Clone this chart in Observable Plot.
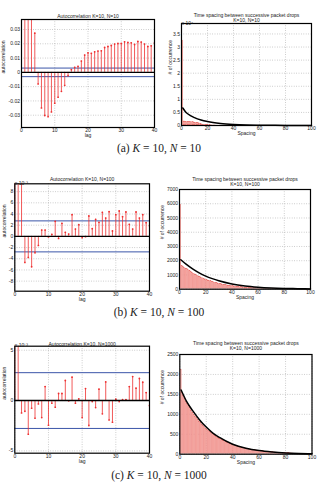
<!DOCTYPE html>
<html>
<head>
<meta charset="utf-8">
<script src="https://cdn.jsdelivr.net/npm/d3@7"></script>
<script src="https://cdn.jsdelivr.net/npm/@observablehq/plot@0.6"></script>
<style>
  body { margin: 0; background: #fff; }
  #fig { position: relative; width: 318px; height: 484px; overflow: hidden; background: #fff; }
  .panel { position: absolute; }
  .cap {
    position: absolute; left: 0; width: 318px; text-align: center;
    font-family: "Liberation Serif", "DejaVu Serif", serif; font-size: 11.5px;
    line-height: 14px; color: #222; white-space: pre;
  }
  .cap i { font-style: italic; }
</style>
</head>
<body>
<div id="fig"></div>
<script>
// Sample autocorrelation of the packet-drop sequence, lags 0..40
const acfN10 = [1, 0.06, 0.05, 0.045, 0.0274, -0.0081, -0.0249, -0.0302, -0.031, -0.0277,
  -0.0216, -0.0174, -0.0133, -0.0091, -0.0023, 0.0019, 0.0035, 0.0042, 0.0079, 0.0121,
  0.0137, 0.0133, 0.0144, 0.0149, 0.0151, 0.0174, 0.0181, 0.0188, 0.0198, 0.0202,
  0.0202, 0.0214, 0.0209, 0.0207, 0.0195, 0.0216, 0.0212, 0.0198, 0.0181, 0.0186, 0.0205];
const acfN100 = [1, 0.012, 0.011, -0.00466, -0.00376, -0.00543, -0.00293, -0.00161, 0.00113, 0.00113,
  -0.0001, 0.00036, 0.00269, -0.00036, 0.00233, 0.00072, 0.00042, 0.00388, 0.00131, 0.00209,
  -0.00024, -0.00006, 0.00364, 0.00137, 0.00304, 0.00251, 0.0043, 0.00328, 0.00442, 0.00096,
  0.00388, 0.00454, 0.00352, 0.00436, 0.00215, 0.00131, 0.00436, 0.00328, 0.00388, 0.00245, 0.00191];
const acfN1000 = [1, 0.008, -0.00123, -0.00106, -0.00334, -0.00076, -0.00175, -0.00033, -0.00169, 0.00139,
  -0.00245, -0.00026, -0.00066, 0.0007, 0.0007, 0.00199, -0.00003, 0.00232, -0.00026, 0.00017,
  -0.00169, 0.00119, -0.00248, -0.0001, -0.0007, 0.00113, -0.00132, 0.00185, -0.00192, -0.00215,
  0.00013, -0.0001, 0.0001, 0.0001, 0.00139, 0.00238, 0.00123, 0.00219, 0.00182, 0.00079, -0.0005];
// 95% confidence bounds
const confN10 = 0.003;
const confN100 = 0.00277;
const confN1000 = 0.00277;

// Histogram of spacing between successive drops (spacing 1, 2, 3, ...)
const histN10 = [32500, 1550, 1500, 1450, 1400, 1350, 1300, 1250, 1200, 1150, 1100, 1000, 900,
  800, 600, 400, 300, 220, 160, 120, 90, 60, 40, 30, 20, 10];
const histN100 = [5950, 1650, 1580, 1500, 1450, 1400, 1330, 1280, 1200, 1150, 1090, 1040, 990,
  940, 890, 840, 800, 760, 720, 680, 640, 610, 580, 550, 520, 490, 460, 440, 410, 390, 370, 350,
  330, 310, 290, 280, 260, 250, 235, 220, 205, 195, 185, 170, 160, 150, 140, 135, 125, 120, 110,
  105, 100, 90, 85, 80, 75, 70, 65, 60, 56, 52, 48, 45, 42, 39, 36, 33, 31, 29, 27, 25, 23, 21,
  20, 18, 17, 16, 15, 14];
const histN1000 = [2115, 1530, 1450, 1390, 1320, 1260, 1200, 1150, 1090, 1040, 990, 945, 900, 860,
  820, 780, 745, 710, 675, 645, 610, 585, 555, 530, 505, 480, 455, 435, 415, 395, 375, 355, 340,
  325, 310, 295, 280, 265, 250, 240, 228, 216, 205, 195, 185, 176, 167, 158, 150, 143, 136, 129,
  122, 116, 110, 104, 99, 94, 89, 84, 80, 76, 72, 68, 64, 61, 58, 55, 52, 49, 46, 44, 42, 40, 38,
  36, 34, 32, 30, 28, 26, 24, 22, 20, 18, 16, 14, 12, 10];

// Fitted geometric decay drawn over each histogram
const fitN10 = { s: [1, 3, 5, 10, 15, 20, 30, 40, 50, 60, 80, 100],
  n: [6700, 5300, 4400, 3000, 2100, 1500, 780, 400, 200, 110, 30, 8] };
const fitN100 = { s: [1, 5, 10, 15, 20, 25, 30, 40, 50, 60, 70, 80, 90, 100],
  n: [2070, 1760, 1430, 1150, 920, 740, 590, 370, 230, 145, 90, 55, 35, 22] };
const fitN1000 = { s: [1, 5, 10, 15, 20, 25, 30, 40, 50, 60, 70, 80, 90, 100],
  n: [1610, 1330, 1080, 860, 680, 530, 420, 250, 150, 90, 55, 32, 18, 10] };

// Tick values
const lagTicks = [0, 10, 20, 30, 40];
const spacingTicks = [0, 20, 40, 60, 80, 100];
const acfTicksN10 = [-0.03, -0.02, -0.01, 0, 0.01, 0.02, 0.03];
const acfTicksN100 = [-0.008, -0.006, -0.004, -0.002, 0, 0.002, 0.004, 0.006, 0.008];
const acfTicksN1000 = [-0.005, 0, 0.005];
const histTicksN10 = [0, 5000, 10000, 15000, 20000, 25000, 30000, 35000];
const histTicksN100 = [0, 1000, 2000, 3000, 4000, 5000, 6000, 7000];
const histTicksN1000 = [0, 500, 1000, 1500, 2000, 2500];

const captions = [
  "(a) <i>K</i> = 10, <i>N</i> = 10",
  "(b) <i>K</i> = 10, <i>N</i> = 100",
  "(c) <i>K</i> = 10, <i>N</i> = 1000"
];

const fig = document.getElementById("fig");
const FONT = "'Liberation Sans', Arial, sans-serif";
const RED = "#ee3030";
const gridStyle = { stroke: "#777", strokeOpacity: 0.9, strokeWidth: 0.5, strokeDasharray: "0.8,1.6" };

function place(svg, left, top) {
  const wrap = document.createElement("div");
  wrap.className = "panel";
  wrap.style.left = left + "px";
  wrap.style.top = top + "px";
  wrap.appendChild(svg);
  fig.appendChild(wrap);
}

const minusFmt = (s) => s.replace("\u2212", "-");

function acfPanel(o) {
  const data = o.values.map((r, lag) => ({ lag, r }));
  const marks = [
    Plot.gridX({ ticks: lagTicks, ...gridStyle }),
    Plot.gridY({ ticks: o.yticks, ...gridStyle }),
    Plot.ruleY([o.conf, -o.conf], { stroke: "#3b55a8", strokeWidth: 1 }),
    Plot.ruleX(data, { x: "lag", y1: 0, y2: "r", stroke: RED, strokeWidth: 0.8, clip: true }),
    Plot.dot(data, { x: "lag", y: "r", r: 0.9, fill: RED, stroke: "none", clip: true }),
    Plot.ruleY([0], { stroke: "black", strokeWidth: 1.4 }),
    Plot.frame({ stroke: "black", strokeWidth: 1.2 }),
    Plot.axisX({ ticks: lagTicks, tickSize: 0, tickPadding: 1, label: null }),
    Plot.axisY({ ticks: o.yticks, tickSize: 0, tickPadding: 1.5, label: null, tickFormat: o.fmt }),
    Plot.text([o.title], { frameAnchor: "top", dy: o.titleDy, fontSize: 5 }),
    Plot.text(["lag"], { frameAnchor: "bottom", dy: 9.5 }),
    Plot.text(["autocorrelation"], { frameAnchor: "left", dx: o.ylabDx, rotate: -90 })
  ];
  if (o.exp) marks.push(Plot.text([o.exp], { frameAnchor: "top-left", textAnchor: "start", dy: -2.5, dx: 0 }));
  const svg = Plot.plot({
    width: o.w, height: o.h,
    marginLeft: o.m[0], marginRight: o.m[1], marginTop: o.m[2], marginBottom: o.m[3],
    style: { fontSize: "5px", fontFamily: FONT, color: "#222", background: "transparent", overflow: "visible" },
    x: { domain: [0, 40] },
    y: { domain: o.domain },
    marks
  });
  place(svg, o.left, o.top);
}

function histPanel(o) {
  const bars = o.counts.map((n, i) => ({ s: i + 1, n }));
  const fit = o.fit.s.map((s, i) => ({ s, n: o.fit.n[i] }));
  const marks = [
    Plot.gridX({ ticks: spacingTicks, ...gridStyle }),
    Plot.gridY({ ticks: o.yticks, ...gridStyle }),
    Plot.rectY(bars, { x1: d => d.s - 0.42, x2: d => d.s + 0.42, y: "n", fill: "#f6aaa4", stroke: "#e86a66", strokeWidth: 0.25, clip: true }),
    Plot.line(fit, { x: "s", y: "n", stroke: "black", strokeWidth: 1.5, curve: "monotone-x" }),
    Plot.frame({ stroke: "black", strokeWidth: 1.2 }),
    Plot.axisX({ ticks: spacingTicks, tickSize: 0, tickPadding: 1, label: null }),
    Plot.axisY({ ticks: o.yticks, tickSize: 0, tickPadding: 1.5, label: null, tickFormat: o.fmt }),
    Plot.text(["Time spacing between successive packet drops"], { frameAnchor: "top", dy: o.titleDy[0] }),
    Plot.text([o.sub], { frameAnchor: "top", dy: o.titleDy[1] }),
    Plot.text(["Spacing"], { frameAnchor: "bottom", dy: o.xlabDy }),
    Plot.text(["# of occurrence"], { frameAnchor: "left", dx: o.ylabDx, rotate: -90 })
  ];
  if (o.exp) marks.push(Plot.text([o.exp], { frameAnchor: "top-left", textAnchor: "start", dy: -2.5 }));
  const svg = Plot.plot({
    width: o.w, height: o.h,
    marginLeft: o.m[0], marginRight: o.m[1], marginTop: o.m[2], marginBottom: o.m[3],
    style: { fontSize: "5px", fontFamily: FONT, color: "#222", background: "transparent", overflow: "visible" },
    x: { domain: [0, 100] },
    y: { domain: o.domain },
    marks
  });
  place(svg, o.left, o.top);
}

// Row (a)
acfPanel({
  values: acfN10, conf: confN10, yticks: acfTicksN10, domain: [-0.0386, 0.037],
  fmt: d => minusFmt(d === 0 ? "0" : String(+d.toFixed(2))),
  title: "Autocorrelation K=10, N=10", titleDy: -4.7, ylabDx: -18,
  left: 0, top: 0, w: 158, h: 140, m: [21, 4, 19, 13]
});
histPanel({
  counts: histN10, fit: fitN10, yticks: histTicksN10, domain: [0, 39000],
  fmt: d => String(d / 10000), exp: "x 10\u2074", sub: "K=10, N=10",
  titleDy: [-9.7, -4.7], xlabDy: 9.5, ylabDx: -11,
  left: 158, top: 0, w: 160, h: 140, m: [23, 7, 23, 15]
});

// Row (b)
acfPanel({
  values: acfN100, conf: confN100, yticks: acfTicksN100, domain: [-0.0098, 0.0094],
  fmt: d => minusFmt(String(Math.round(d * 1000))), exp: "x 10\u207B\u00B3",
  title: "Autocorrelation K=10, N=100", titleDy: -6.5, ylabDx: -10,
  left: 0, top: 160, w: 158, h: 145, m: [14.3, 9, 23.3, 14.3]
});
histPanel({
  counts: histN100, fit: fitN100, yticks: histTicksN100, domain: [0, 7000],
  fmt: d => String(d), sub: "K=10, N=100",
  titleDy: [-11.7, -6.7], xlabDy: 9.5, ylabDx: -17,
  left: 158, top: 160, w: 160, h: 145, m: [21, 8, 29, 16.3]
});

// Row (c)
acfPanel({
  values: acfN1000, conf: confN1000, yticks: acfTicksN1000, domain: [-0.00523, 0.0054],
  fmt: d => minusFmt(String(Math.round(d * 1000))), exp: "x 10\u207B\u00B3",
  title: "Autocorrelation K=10, N=1000", titleDy: -4.2, ylabDx: -10,
  left: 0, top: 325, w: 158, h: 145, m: [14.3, 9, 20.7, 17.3]
});
histPanel({
  counts: histN1000, fit: fitN1000, yticks: histTicksN1000, domain: [0, 2500],
  fmt: d => String(d), sub: "K=10, N=1000",
  titleDy: [-13, -8.3], xlabDy: 10, ylabDx: -17.6,
  left: 158, top: 325, w: 160, h: 145, m: [21.3, 6.5, 29, 16.3]
});

// Sub-figure captions
[148, 312, 475].forEach((cy, i) => {
  const d = document.createElement("div");
  d.className = "cap";
  d.style.top = (cy - 7) + "px";
  d.innerHTML = captions[i];
  fig.appendChild(d);
});
</script>
</body>
</html>
